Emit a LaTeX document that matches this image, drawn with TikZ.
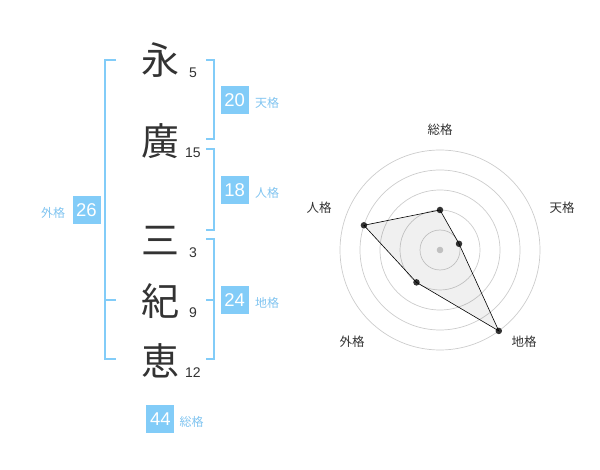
\documentclass[tikz,border=0pt]{standalone}
\usepackage{fontspec}
\setmainfont{Liberation Sans}
\newfontfamily\jpfont{Noto Sans CJK JP}
\usepackage{tikz}
\usetikzlibrary{calc,positioning}

\definecolor{kakublue}{RGB}{130,204,248}
\definecolor{kakutext}{RGB}{128,196,240}
\definecolor{inkgray}{RGB}{51,51,51}

\begin{document}
\begin{tikzpicture}[x=1pt, y=-1pt,
    kanji/.style={font=\jpfont\fontsize{38}{40}\selectfont, text=inkgray, inner sep=0pt},
    strokes/.style={font=\fontsize{14}{16}\selectfont, text=inkgray, inner sep=0pt},
    kakubox/.style={fill=kakublue, text=white, minimum size=28pt, inner sep=0pt, font=\fontsize{18.5}{20}\selectfont},
    kakulabel/.style={text=kakutext, font=\jpfont\fontsize{12}{14}\selectfont, inner sep=0pt},
    bracket/.style={draw=kakublue, line width=2pt},
    ring/.style={draw=black!20, line width=0.7pt},
    axislabel/.style={text=inkgray, font=\jpfont\fontsize{12.5}{14}\selectfont, inner sep=0pt},
    scoredot/.style={circle, fill=inkgray, inner sep=0pt, minimum size=6.5pt}]
    \useasboundingbox (0,0) rectangle (600,470);

    \node (ei) [kanji] at (160,60) {永};
    \node (kou) [kanji] at (160,141) {廣};
    \node (san) [kanji] at (160,241) {三};
    \node (ki) [kanji] at (160,301) {紀};
    \node (kei) [kanji] at (160,361) {恵};

    \node (eiN) [strokes] at (193,73) {5};
    \node (kouN) [strokes] at (193,153) {15};
    \node (sanN) [strokes] at (193,253) {3};
    \node (kiN) [strokes] at (193,313) {9};
    \node (keiN) [strokes] at (193,373) {12};

    \draw [bracket] (206,60) -- (214,60) -- (214,139) -- (206,139);
    \draw [bracket] (206,149) -- (214,149) -- (214,230) -- (206,230);
    \draw [bracket] (206,239) -- (214,239) -- (214,359) -- (206,359);
    \draw [bracket] (206,300) -- (214,300);
    \draw [bracket] (116,60) -- (105,60) -- (105,359) -- (116,359);
    \draw [bracket] (105,300) -- (116,300);

    \node (tenkaku) [kakubox] at (234.7,100) {20};
    \node (jinkaku) [kakubox] at (234.7,190) {18};
    \node (chikaku) [kakubox] at (234.7,300) {24};
    \node (gaikaku) [kakubox] at (86.5,210) {26};
    \node (soukaku) [kakubox] at (160.3,419) {44};

    \node [kakulabel, right=6pt of tenkaku, yshift=-3pt] {天格};
    \node [kakulabel, right=6pt of jinkaku, yshift=-3pt] {人格};
    \node [kakulabel, right=6pt of chikaku, yshift=-3pt] {地格};
    \node [kakulabel, left=7pt of gaikaku, yshift=-3pt] {外格};
    \node [kakulabel, right=5pt of soukaku, yshift=-3pt] {総格};

    \begin{scope}[shift={(440,250)}, y=1pt]
        \foreach \r in {20,40,60,80,100}
            \draw [ring] (0,0) circle (\r);
        \fill [black!20] (0,0) circle (3.3);
        \node (sou) [scoredot] at (90:40) {};
        \node (ten) [scoredot] at (18:20) {};
        \node (chi) [scoredot] at (-54:100) {};
        \node (gai) [scoredot] at (-126:40) {};
        \node (jin) [scoredot] at (162:80) {};
        \fill [black, opacity=0.06] (sou.center) -- (ten.center) -- (chi.center) -- (gai.center) -- (jin.center) -- cycle;
        \draw [black, line width=0.6pt] (sou.center) -- (ten.center) -- (chi.center) -- (gai.center) -- (jin.center) -- cycle;
    \end{scope}

    \node (souL) [axislabel] at (440,130) {総格};
    \node (tenL) [axislabel] at (562,208) {天格};
    \node (jinL) [axislabel] at (319,208) {人格};
    \node (gaiL) [axislabel] at (352,342) {外格};
    \node (chiL) [axislabel] at (524,342) {地格};
\end{tikzpicture}
\end{document}
